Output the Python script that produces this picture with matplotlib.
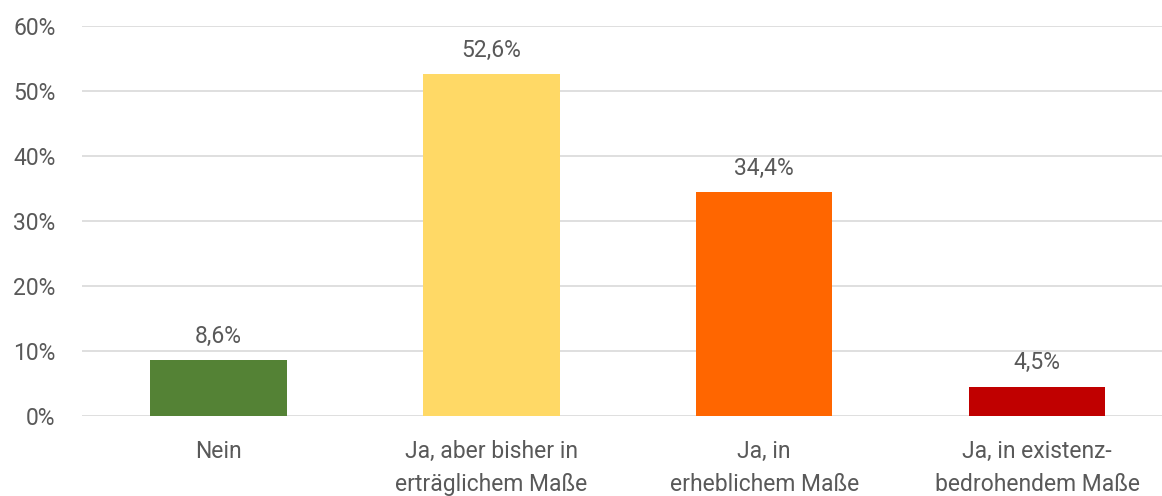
import matplotlib.pyplot as plt

categories = ["Nein", "Ja, aber bisher in\nerträglichem Maße", "Ja, in\nerheblichem Maße",
              "Ja, in existenz-\nbedrohendem Maße"]
values = [8.6, 52.6, 34.4, 4.5]
value_labels = ["8,6%", "52,6%", "34,4%", "4,5%"]
colors = ["#548235", "#FFD966", "#FF6600", "#C00000"]
yticks = [0, 10, 20, 30, 40, 50, 60]

plt.rcParams['font.family'] = ['Roboto', 'DejaVu Sans']
txt = "#595959"
fs = 16.5

fig = plt.figure(figsize=(11.62, 4.96), dpi=100)
ax = fig.add_axes([82 / 1162, 80 / 496, 1 - 82 / 1162, 390 / 496])

x = list(range(len(categories)))
bars = ax.bar(x, values, width=0.5, color=colors, zorder=3)
for b, lab in zip(bars, value_labels):
    ax.annotate(lab, (b.get_x() + b.get_width() / 2, b.get_height()),
                xytext=(0, 9), textcoords='offset points',
                ha='center', va='bottom', fontsize=fs, color=txt)

ax.set_ylim(0, 60)
ax.set_xlim(-0.5, 3.458)
ax.set_yticks(yticks)
ax.set_yticklabels([f"{t}%" for t in yticks], fontsize=fs, color=txt)
ax.set_xticks(x)
ax.set_xticklabels(categories, fontsize=fs, color=txt, linespacing=1.6)
ax.tick_params(axis='both', length=0)
ax.tick_params(axis='y', pad=19)
ax.tick_params(axis='x', pad=17)
ax.yaxis.grid(True, color="#D9D9D9", linewidth=1.2, zorder=0)
for s in ax.spines.values():
    s.set_visible(False)

fig.savefig("out.png", dpi=100)
